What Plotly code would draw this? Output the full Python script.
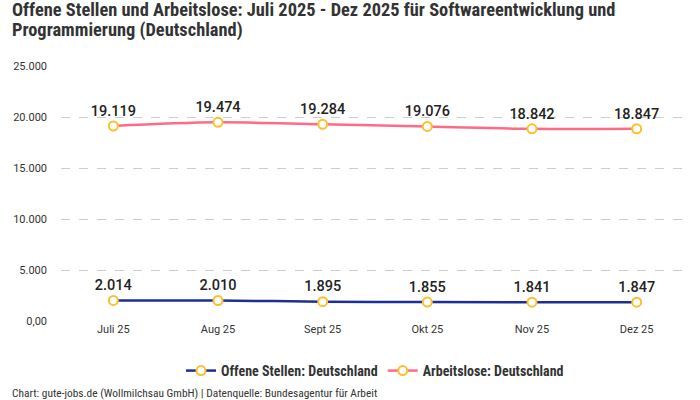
import plotly.graph_objects as go

months = ["Juli 25", "Aug 25", "Sept 25", "Okt 25", "Nov 25", "Dez 25"]
offene_stellen = [2014, 2010, 1895, 1855, 1841, 1847]
arbeitslose = [19119, 19474, 19284, 19076, 18842, 18847]
offene_labels = ["2.014", "2.010", "1.895", "1.855", "1.841", "1.847"]
arbeitslose_labels = ["19.119", "19.474", "19.284", "19.076", "18.842", "18.847"]
tick_vals = [0, 5000, 10000, 15000, 20000, 25000]
tick_text = ["0,00", "5.000", "10.000", "15.000", "20.000", "25.000"]

NARROW = "Liberation Sans Narrow, Roboto Condensed, sans-serif"
REG = "Roboto, Noto Sans, sans-serif"
marker = dict(size=9, color="white", line=dict(color="#fbc02d", width=2))

fig = go.Figure()
fig.add_trace(go.Scatter(
    x=months, y=offene_stellen, name="<b>Offene Stellen: Deutschland</b>",
    mode="lines+markers+text", text=offene_labels, textposition="top center",
    textfont=dict(size=14.5, color="#222", family=REG, weight=500),
    line=dict(color="#1c2f95", width=2.5, shape="spline"), marker=marker,
))
fig.add_trace(go.Scatter(
    x=months, y=arbeitslose, name="<b>Arbeitslose: Deutschland</b>",
    mode="lines+markers+text", text=arbeitslose_labels, textposition="top center",
    textfont=dict(size=14.5, color="#222", family=REG, weight=500),
    line=dict(color="#ff6b86", width=2.5, shape="spline"), marker=marker,
))

fig.update_layout(
    width=700, height=400,
    margin=dict(l=61, r=11, t=66, b=79),
    paper_bgcolor="white", plot_bgcolor="white",
    font=dict(family=REG, color="#333", size=11),
    showlegend=True,
    legend=dict(orientation="h", x=0.5, xanchor="center", y=-0.196, yanchor="middle",
                font=dict(size=14, color="#333", family=NARROW),
                traceorder="normal"),
    xaxis=dict(type="category", range=[-0.5, 5.5], showgrid=False, zeroline=False,
               showline=False, ticks="", tickfont=dict(size=11, color="#333", family=REG)),
    yaxis=dict(range=[0, 25000], tickvals=tick_vals, ticktext=tick_text,
               showgrid=True, gridcolor="#cccccc", griddash="dash", gridwidth=1,
               zeroline=False, showline=False, ticks="", ticklabelstandoff=13,
               tickfont=dict(size=11, color="#333", family=REG)),
)
title_lines = ["<b>Offene Stellen und Arbeitslose: Juli 2025 - Dez 2025 für Softwareentwicklung und</b>",
               "<b>Programmierung (Deutschland)</b>"]
for i, t in enumerate(title_lines):
    fig.add_annotation(
        text=t, xref="paper", yref="paper", x=-0.0812, y=(321 - 9.5 - 20 * i) / 255,
        xanchor="left", yanchor="middle", showarrow=False,
        font=dict(size=18.4, color="#333", family=NARROW),
    )
fig.add_annotation(
    text="Chart: gute-jobs.de (Wollmilchsau GmbH) | Datenquelle: Bundesagentur für Arbeit",
    xref="paper", yref="paper", x=-0.0812, y=-0.282, xanchor="left", yanchor="middle",
    showarrow=False, font=dict(size=11.4, color="#333", family=NARROW),
)
fig.write_html("out.html", post_script="document.body.style.margin='0';",
               config={"displayModeBar": False})
